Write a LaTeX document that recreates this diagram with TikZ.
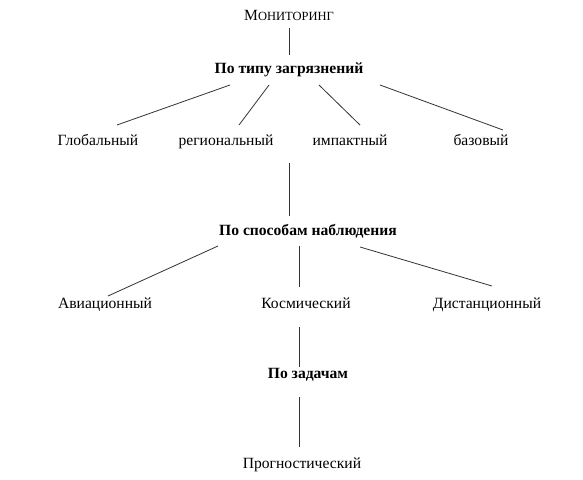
\documentclass[tikz,border=0pt]{standalone}
\usepackage{fontspec}
\setmainfont{Liberation Serif}
\usetikzlibrary{calc}
\begin{document}
\begin{tikzpicture}[x=1pt,y=-1pt,
  lbl/.style={inner sep=0pt,text height=10.5pt,text depth=3.5pt,font=\fontsize{15.6}{18}\selectfont},
  hdr/.style={inner sep=0pt,text height=10.5pt,text depth=3.5pt,font=\fontsize{15.6}{18}\selectfont\bfseries},
  conn/.style={draw=black!80,line width=0.8pt}]
\useasboundingbox[fill=white] (0,0) rectangle (583,479);
\node[lbl] (mon) at (289,17) {М{\fontsize{12.5}{14}\selectfont ОНИТОРИНГ}};
\node[hdr] (typ) at (289,70) {По типу загрязнений};
\node[lbl] (glob) at (98,142) {Глобальный};
\node[lbl] (reg) at (226,142) {региональный};
\node[lbl] (imp) at (350,142) {импактный};
\node[lbl] (baz) at (481,142) {базовый};
\node[hdr] (sp) at (308,232) {По способам наблюдения};
\node[lbl] (avi) at (105,305) {Авиационный};
\node[lbl] (kos) at (306,305) {Космический};
\node[lbl] (dist) at (487,305) {Дистанционный};
\node[hdr] (zad) at (308,375) {По задачам};
\node[lbl] (prog) at (302,465) {Прогностический};
\draw[conn] ($(mon)+(0,11)$) -- ($(typ)+(0,-15)$);
\draw[conn] ($(typ)+(-59,15)$) -- ($(glob)+(19,-17)$);
\draw[conn] ($(typ)+(-20,15)$) -- ($(reg)+(13,-17)$);
\draw[conn] ($(typ)+(30,15)$) -- ($(imp)+(10,-17)$);
\draw[conn] ($(typ)+(91,15)$) -- ($(baz)+(22,-12)$);
\draw[conn] ($($(reg)!0.5!(imp)$)+(1,21)$) -- ($(sp)+(-19,-16)$);
\draw[conn] ($(sp)+(-90,14)$) -- ($(avi)+(3,-9)$);
\draw[conn] ($(sp)+(-9,14)$) -- ($(kos)+(-7,-18)$);
\draw[conn] ($(sp)+(52,15)$) -- ($(dist)+(5,-19)$);
\draw[conn] ($(kos)+(-7,22)$) -- ($(zad)+(-9,-8)$);
\draw[conn] ($(zad)+(-9,22)$) -- ($(prog)+(-3,-18)$);
\end{tikzpicture}
\end{document}
